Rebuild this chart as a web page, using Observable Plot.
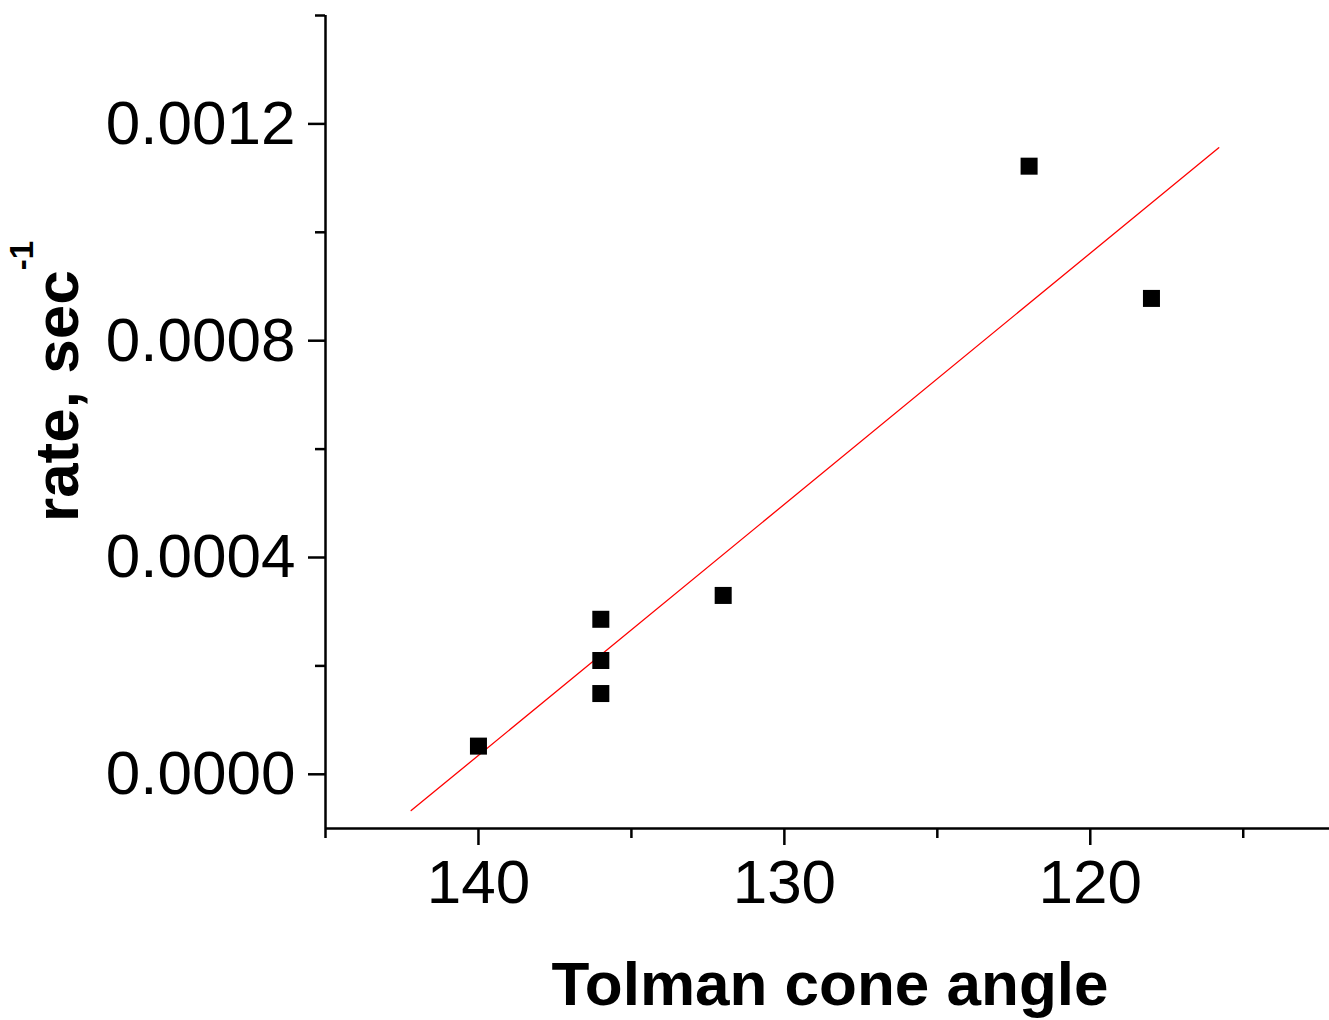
<!DOCTYPE html>
<html><head><meta charset="utf-8">
<script src="https://cdn.jsdelivr.net/npm/d3@7"></script>
<script src="https://cdn.jsdelivr.net/npm/@observablehq/plot@0.6"></script>
<style>body{margin:0;background:#fff;} svg{display:block;background:#fff;}</style>
</head><body><div id="chart"></div>
<script>
// data
const coneAngle = [140, 136, 136, 136, 132, 122, 118];
const rate = [0.000052, 0.000149, 0.000210, 0.000286, 0.000330, 0.001122, 0.000878];
const fitAngle = [142.2, 115.8];
const fitRate = [-0.000067, 0.001156];
const xMajorTicks = [140, 130, 120];
const xMinorTicks = [145, 135, 125, 115];
const yMajorTicks = [0, 0.0004, 0.0008, 0.0012];
const yMinorTicks = [0.0002, 0.0006, 0.0010, 0.0014];
const xTitle = "Tolman cone angle";
const yTitle = "rate, sec";
const yTitleSup = "-1";

const FONT = "'Liberation Sans', Arial, Helvetica, sans-serif";
const points = coneAngle.map((a, i) => ({angle: a, rate: rate[i]}));
const fit = fitAngle.map((a, i) => ({angle: a, rate: fitRate[i]}));

const chart = Plot.plot({
  width: 1329,
  height: 1020,
  marginLeft: 325,
  marginRight: 0,
  marginTop: 15,
  marginBottom: 192,
  style: {fontFamily: FONT, background: "#fff", color: "#000"},
  x: {domain: [145, 112.18]},
  y: {domain: [-0.0001, 0.0014]},
  marks: [
    Plot.axisX({ticks: xMajorTicks, tickSize: 17, tickPadding: 13, strokeWidth: 2.5, fontSize: 62, fontFamily: FONT, tickFormat: d3.format("d"), label: null}),
    Plot.axisX({ticks: xMinorTicks, tickSize: 10, strokeWidth: 2.5, text: null, label: null}),
    Plot.axisY({ticks: yMajorTicks, tickSize: 17, tickPadding: 13, strokeWidth: 2.5, fontSize: 62, fontFamily: FONT, tickFormat: d3.format(".4f"), label: null}),
    Plot.axisY({ticks: yMinorTicks, tickSize: 10, strokeWidth: 2.5, text: null, label: null}),
    Plot.ruleY([-0.0001], {stroke: "#000", strokeWidth: 2.5}),
    Plot.ruleX([145], {stroke: "#000", strokeWidth: 2.5}),
    Plot.line(fit, {x: "angle", y: "rate", stroke: "#ff0000", strokeWidth: 1.3}),
    Plot.dot(points, {x: "angle", y: "rate", symbol: "square", r: 9.6, fill: "#000", stroke: "none"})
  ]
});

const svg = d3.select(chart);
svg.append("text")
  .attr("x", 830).attr("y", 1005)
  .attr("text-anchor", "middle")
  .attr("font-family", FONT).attr("font-weight", "bold").attr("font-size", 62)
  .attr("fill", "#000")
  .text(xTitle);

const yt = svg.append("text")
  .attr("transform", "translate(78,522) rotate(-90)")
  .attr("text-anchor", "start")
  .attr("font-family", FONT).attr("font-weight", "bold").attr("font-size", 62)
  .attr("fill", "#000");
yt.append("tspan").text(yTitle);
yt.append("tspan").attr("dy", -45).attr("font-size", 33).text(yTitleSup);

document.getElementById("chart").appendChild(chart);
</script>
</body></html>
